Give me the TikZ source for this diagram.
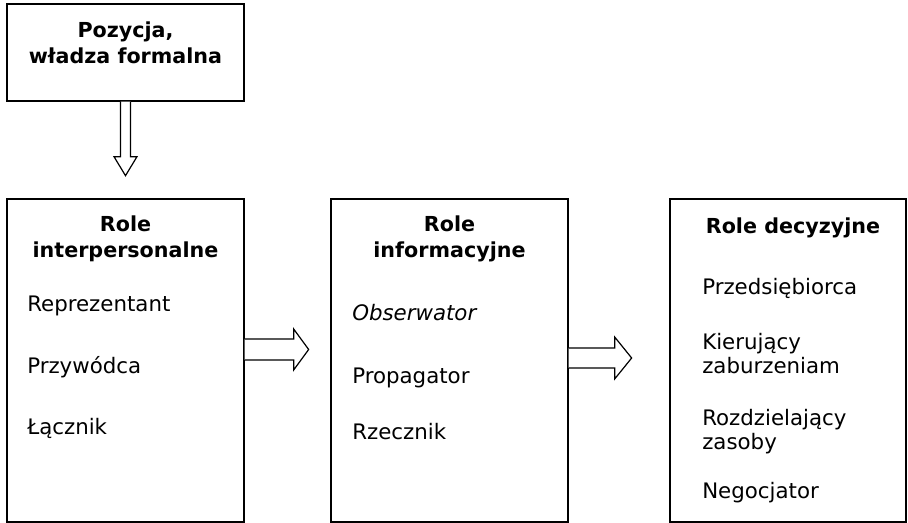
\documentclass[tikz,border=0pt]{standalone}
\usepackage{fontspec}
\setmainfont{DejaVu Sans}
\usetikzlibrary{calc}

\tikzset{
  box/.style={draw, line width=1pt, rectangle, inner sep=0pt},
  title/.style={font=\fontsize{15.5}{19.5}\selectfont\bfseries, align=center, anchor=base, inner sep=0pt},
  item/.style={font=\fontsize{16}{18}\selectfont, align=left, anchor=base west, inner sep=0pt},
  blockarrow/.style={draw, line width=0.9pt, fill=white}
}

\begin{document}
\begin{tikzpicture}[x=0.75pt,y=-0.75pt]
\useasboundingbox (0,0) rectangle (908,523);
% boxes
\node[box, minimum width=177.75pt, minimum height=72.75pt] (pozycja) at (125.5,52.5) {};
\node[box, minimum width=177.75pt, minimum height=242.25pt] (inter) at (125.5,360.5) {};
\node[box, minimum width=177.75pt, minimum height=242.25pt] (info) at (449.5,360.5) {};
\node[box, minimum width=177pt, minimum height=242.25pt] (decyz) at (788,360.5) {};
% titles (anchor = baseline of last line)
\node[title] (tpoz) at (125.5,64) {Pozycja,\\władza formalna};
\node[title] (tinter) at (125.5,258) {Role\\interpersonalne};
\node[title] (tinfo) at (449.5,258) {Role\\informacyjne};
\node[title] (tdecyz) at (793,234) {Role decyzyjne};
% roles
\node[item] (repr) at (27,312) {Reprezentant};
\node[item] (przyw) at (27,374) {Przywódca};
\node[item] (lacz) at (27,435) {Łącznik};
\node[item] (obs) at (352,321) {\itshape Obserwator};
\node[item] (prop) at (352,384) {Propagator};
\node[item] (rzecz) at (352,440) {Rzecznik};
\node[item] (przed) at (702,295) {Przedsiębiorca};
\node[item] (kier) at (702,374) {Kierujący\\zaburzeniam};
\node[item] (rozdz) at (702,450) {Rozdzielający\\zasoby};
\node[item] (neg) at (702,499) {Negocjator};
% block arrows
\draw[blockarrow] ($(pozycja.south)+(-5,0)$) -- ++(0,55) -- ++(-6.5,0) -- ++(11.5,19)
  -- ++(11.5,-19) -- ++(-6.5,0) -- ++(0,-55);
\draw[blockarrow] ($(inter.east)+(0,-21.5)$) -- ++(49,0) -- ++(0,-10) -- ++(15,20.5)
  -- ++(-15,20.5) -- ++(0,-10) -- ++(-49,0);
\draw[blockarrow] ($(info.east)+(0,-12.5)$) -- ++(46,0) -- ++(0,-11) -- ++(17,21)
  -- ++(-17,21) -- ++(0,-11) -- ++(-46,0);
\end{tikzpicture}
\end{document}
